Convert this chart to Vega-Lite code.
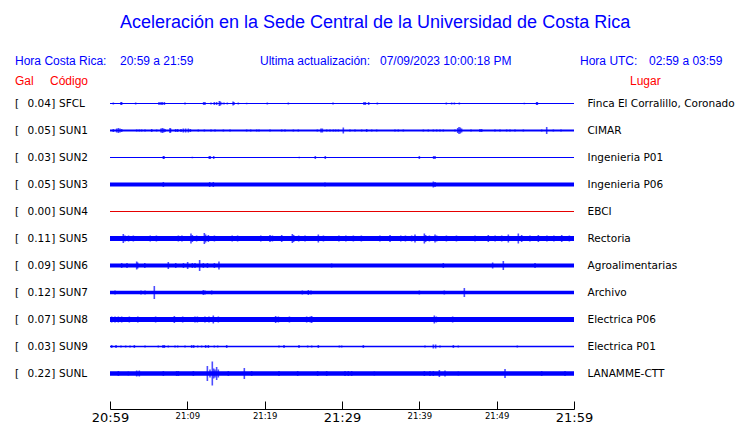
{
  "$schema": "https://vega.github.io/schema/vega-lite/v6.json",
  "autosize": {"type": "none"},
  "width": 464,
  "height": 297,
  "padding": {"left": 110, "top": 90, "right": 166, "bottom": 36},
  "background": "white",
  "config": {"view": {"stroke": null}},
  "datasets": {
    "bands": [
      {"s": "SFCL", "t0": 0, "t1": 60, "w": 1},
      {"s": "SUN1", "t0": 0, "t1": 60, "w": 2},
      {"s": "SUN2", "t0": 0, "t1": 60, "w": 1},
      {"s": "SUN3", "t0": 0, "t1": 60, "w": 4},
      {"s": "SUN4", "t0": 0, "t1": 60, "w": 1},
      {"s": "SUN5", "t0": 0, "t1": 60, "w": 5},
      {"s": "SUN6", "t0": 0, "t1": 60, "w": 4},
      {"s": "SUN7", "t0": 0, "t1": 60, "w": 3.5},
      {"s": "SUN8", "t0": 0, "t1": 60, "w": 5},
      {"s": "SUN9", "t0": 0, "t1": 60, "w": 1.3},
      {"s": "SUNL", "t0": 0, "t1": 60, "w": 4.5}
    ],
    "stations": [
      {"s": "SFCL", "g": 0.04, "lugar": "Finca El Corralillo, Coronado"},
      {"s": "SUN1", "g": 0.05, "lugar": "CIMAR"},
      {"s": "SUN2", "g": 0.03, "lugar": "Ingenieria P01"},
      {"s": "SUN3", "g": 0.05, "lugar": "Ingenieria P06"},
      {"s": "SUN4", "g": 0.0, "lugar": "EBCI"},
      {"s": "SUN5", "g": 0.11, "lugar": "Rectoria"},
      {"s": "SUN6", "g": 0.09, "lugar": "Agroalimentarias"},
      {"s": "SUN7", "g": 0.12, "lugar": "Archivo"},
      {"s": "SUN8", "g": 0.07, "lugar": "Electrica P06"},
      {"s": "SUN9", "g": 0.03, "lugar": "Electrica P01"},
      {"s": "SUNL", "g": 0.22, "lugar": "LANAMME-CTT"}
    ],
    "spikes": [
      {"s":"SFCL","t":0.43,"a":2},{"s":"SFCL","t":1.42,"a":3},{"s":"SFCL","t":1.51,"a":3},{"s":"SFCL","t":3.32,"a":2},
      {"s":"SFCL","t":6.34,"a":3},{"s":"SFCL","t":6.59,"a":3},{"s":"SFCL","t":6.77,"a":3},{"s":"SFCL","t":7.03,"a":3},
      {"s":"SFCL","t":9.7,"a":2},{"s":"SFCL","t":12.11,"a":3},{"s":"SFCL","t":12.28,"a":3},{"s":"SFCL","t":13.06,"a":2},
      {"s":"SFCL","t":13.49,"a":3},{"s":"SFCL","t":13.79,"a":3},{"s":"SFCL","t":14.14,"a":5},{"s":"SFCL","t":14.27,"a":4},
      {"s":"SFCL","t":14.44,"a":2},{"s":"SFCL","t":14.74,"a":2},{"s":"SFCL","t":15.17,"a":2},{"s":"SFCL","t":15.91,"a":4},
      {"s":"SFCL","t":16.03,"a":3},{"s":"SFCL","t":16.59,"a":2},{"s":"SFCL","t":17.67,"a":1.5},{"s":"SFCL","t":20.34,"a":2},
      {"s":"SFCL","t":23.06,"a":2},{"s":"SFCL","t":28.84,"a":2},{"s":"SFCL","t":32.84,"a":3},{"s":"SFCL","t":33.02,"a":3},
      {"s":"SFCL","t":33.45,"a":3},{"s":"SFCL","t":34.57,"a":2},{"s":"SFCL","t":43.49,"a":2},{"s":"SFCL","t":44.18,"a":2},
      {"s":"SFCL","t":44.53,"a":2},{"s":"SFCL","t":45.17,"a":2},{"s":"SFCL","t":53.58,"a":1.5},{"s":"SFCL","t":55.17,"a":3},
      {"s":"SFCL","t":55.26,"a":3},

      {"s":"SUN1","t":0.43,"a":3},{"s":"SUN1","t":0.86,"a":4},{"s":"SUN1","t":1.08,"a":5},{"s":"SUN1","t":1.29,"a":4},
      {"s":"SUN1","t":1.51,"a":3},{"s":"SUN1","t":3.45,"a":2},{"s":"SUN1","t":3.79,"a":2},{"s":"SUN1","t":4.09,"a":2},
      {"s":"SUN1","t":4.53,"a":2},{"s":"SUN1","t":5.39,"a":3},{"s":"SUN1","t":6.03,"a":2},{"s":"SUN1","t":6.59,"a":4},
      {"s":"SUN1","t":6.77,"a":5},{"s":"SUN1","t":6.94,"a":4},{"s":"SUN1","t":7.11,"a":3},{"s":"SUN1","t":7.76,"a":5},
      {"s":"SUN1","t":7.84,"a":4},{"s":"SUN1","t":8.49,"a":3},{"s":"SUN1","t":8.75,"a":3},{"s":"SUN1","t":9.18,"a":3},
      {"s":"SUN1","t":9.48,"a":4},{"s":"SUN1","t":9.78,"a":4},{"s":"SUN1","t":10.13,"a":4},{"s":"SUN1","t":10.39,"a":3},
      {"s":"SUN1","t":11.42,"a":2},{"s":"SUN1","t":12.2,"a":2},{"s":"SUN1","t":13.06,"a":2},{"s":"SUN1","t":13.58,"a":2},
      {"s":"SUN1","t":14.66,"a":2},{"s":"SUN1","t":15.52,"a":2},{"s":"SUN1","t":17.67,"a":2},{"s":"SUN1","t":18.19,"a":2},
      {"s":"SUN1","t":18.97,"a":2},{"s":"SUN1","t":19.27,"a":2},{"s":"SUN1","t":20.69,"a":2},{"s":"SUN1","t":22.2,"a":2},
      {"s":"SUN1","t":22.63,"a":2},{"s":"SUN1","t":23.71,"a":2},{"s":"SUN1","t":24.35,"a":2},{"s":"SUN1","t":26.81,"a":2},
      {"s":"SUN1","t":27.28,"a":4},{"s":"SUN1","t":27.46,"a":4},{"s":"SUN1","t":28.02,"a":2},{"s":"SUN1","t":28.45,"a":2},
      {"s":"SUN1","t":28.88,"a":2},{"s":"SUN1","t":29.18,"a":2},{"s":"SUN1","t":29.53,"a":2},{"s":"SUN1","t":30.17,"a":6},
      {"s":"SUN1","t":31.03,"a":2},{"s":"SUN1","t":31.68,"a":2},{"s":"SUN1","t":32.54,"a":2},{"s":"SUN1","t":33.19,"a":3},
      {"s":"SUN1","t":33.84,"a":2},{"s":"SUN1","t":34.48,"a":2},{"s":"SUN1","t":36.85,"a":2},{"s":"SUN1","t":37.28,"a":2},
      {"s":"SUN1","t":37.93,"a":2},{"s":"SUN1","t":40.52,"a":2},{"s":"SUN1","t":41.16,"a":2},{"s":"SUN1","t":41.81,"a":2},
      {"s":"SUN1","t":42.24,"a":2},{"s":"SUN1","t":42.67,"a":2},{"s":"SUN1","t":43.1,"a":2},{"s":"SUN1","t":44.61,"a":2},
      {"s":"SUN1","t":44.96,"a":5},{"s":"SUN1","t":45.13,"a":7},{"s":"SUN1","t":45.3,"a":6},{"s":"SUN1","t":45.47,"a":4},
      {"s":"SUN1","t":46.68,"a":2},{"s":"SUN1","t":47.84,"a":3},{"s":"SUN1","t":48.06,"a":3},{"s":"SUN1","t":49.78,"a":2},
      {"s":"SUN1","t":50.43,"a":2},{"s":"SUN1","t":51.29,"a":2},{"s":"SUN1","t":51.72,"a":2},{"s":"SUN1","t":52.37,"a":2},
      {"s":"SUN1","t":53.45,"a":2},{"s":"SUN1","t":55.82,"a":2},{"s":"SUN1","t":56.47,"a":7},{"s":"SUN1","t":57.33,"a":2},
      {"s":"SUN1","t":58.32,"a":2},

      {"s":"SUN2","t":6.9,"a":3},{"s":"SUN2","t":6.98,"a":3},{"s":"SUN2","t":10.65,"a":1.5},{"s":"SUN2","t":12.84,"a":3},
      {"s":"SUN2","t":12.97,"a":3},{"s":"SUN2","t":13.41,"a":3},{"s":"SUN2","t":24.48,"a":1.5},{"s":"SUN2","t":26.55,"a":3},
      {"s":"SUN2","t":27.84,"a":3},{"s":"SUN2","t":40.0,"a":3},{"s":"SUN2","t":41.85,"a":3},{"s":"SUN2","t":42.03,"a":3},

      {"s":"SUN3","t":6.9,"a":5},{"s":"SUN3","t":12.89,"a":5},{"s":"SUN3","t":13.36,"a":5},{"s":"SUN3","t":27.8,"a":4},
      {"s":"SUN3","t":41.81,"a":6},{"s":"SUN3","t":42.03,"a":5},

      {"s":"SUN5","t":0.3,"a":5},{"s":"SUN5","t":0.56,"a":5},{"s":"SUN5","t":1.72,"a":9},{"s":"SUN5","t":1.94,"a":6},
      {"s":"SUN5","t":2.4,"a":6},{"s":"SUN5","t":3.02,"a":6},{"s":"SUN5","t":4.09,"a":5},{"s":"SUN5","t":5.2,"a":6},
      {"s":"SUN5","t":6.0,"a":6},{"s":"SUN5","t":7.54,"a":5},{"s":"SUN5","t":7.97,"a":5},{"s":"SUN5","t":8.84,"a":6},
      {"s":"SUN5","t":9.3,"a":6},{"s":"SUN5","t":10.47,"a":10},{"s":"SUN5","t":10.65,"a":7},{"s":"SUN5","t":11.2,"a":6},
      {"s":"SUN5","t":12.2,"a":11},{"s":"SUN5","t":12.37,"a":8},{"s":"SUN5","t":12.72,"a":7},{"s":"SUN5","t":13.5,"a":6},
      {"s":"SUN5","t":14.44,"a":5},{"s":"SUN5","t":15.8,"a":6},{"s":"SUN5","t":16.5,"a":6},{"s":"SUN5","t":17.46,"a":5},
      {"s":"SUN5","t":18.75,"a":5},{"s":"SUN5","t":19.5,"a":6},{"s":"SUN5","t":20.69,"a":7},{"s":"SUN5","t":21.0,"a":6},
      {"s":"SUN5","t":22.2,"a":7},{"s":"SUN5","t":23.58,"a":9},{"s":"SUN5","t":23.75,"a":7},{"s":"SUN5","t":24.4,"a":6},
      {"s":"SUN5","t":25.22,"a":6},{"s":"SUN5","t":26.94,"a":8},{"s":"SUN5","t":27.6,"a":6},{"s":"SUN5","t":28.02,"a":5},
      {"s":"SUN5","t":29.6,"a":6},{"s":"SUN5","t":30.5,"a":6},{"s":"SUN5","t":31.47,"a":6},{"s":"SUN5","t":32.5,"a":6},
      {"s":"SUN5","t":33.84,"a":5},{"s":"SUN5","t":34.9,"a":6},{"s":"SUN5","t":36.21,"a":7},{"s":"SUN5","t":37.6,"a":6},
      {"s":"SUN5","t":38.2,"a":6},{"s":"SUN5","t":39.01,"a":6},{"s":"SUN5","t":39.44,"a":8},{"s":"SUN5","t":40.65,"a":10},
      {"s":"SUN5","t":40.82,"a":7},{"s":"SUN5","t":41.3,"a":6},{"s":"SUN5","t":42.03,"a":8},{"s":"SUN5","t":42.24,"a":6},
      {"s":"SUN5","t":43.5,"a":6},{"s":"SUN5","t":44.8,"a":6},{"s":"SUN5","t":46.34,"a":5},{"s":"SUN5","t":47.2,"a":6},
      {"s":"SUN5","t":48.92,"a":7},{"s":"SUN5","t":49.8,"a":6},{"s":"SUN5","t":50.65,"a":6},{"s":"SUN5","t":51.51,"a":8},
      {"s":"SUN5","t":52.8,"a":10},{"s":"SUN5","t":53.23,"a":7},{"s":"SUN5","t":54.3,"a":6},{"s":"SUN5","t":55.39,"a":7},
      {"s":"SUN5","t":56.5,"a":6},{"s":"SUN5","t":57.4,"a":6},{"s":"SUN5","t":58.41,"a":7},{"s":"SUN5","t":59.4,"a":6},

      {"s":"SUN6","t":1.51,"a":5},{"s":"SUN6","t":2.2,"a":5},{"s":"SUN6","t":3.45,"a":8},{"s":"SUN6","t":3.58,"a":6},
      {"s":"SUN6","t":4.5,"a":5},{"s":"SUN6","t":7.54,"a":7},{"s":"SUN6","t":8.5,"a":5},{"s":"SUN6","t":9.5,"a":5},
      {"s":"SUN6","t":10.04,"a":7},{"s":"SUN6","t":10.65,"a":5},{"s":"SUN6","t":10.99,"a":5},{"s":"SUN6","t":11.59,"a":11},
      {"s":"SUN6","t":12.07,"a":5},{"s":"SUN6","t":12.6,"a":5},{"s":"SUN6","t":13.5,"a":5},{"s":"SUN6","t":14.09,"a":8},
      {"s":"SUN6","t":28.66,"a":4},{"s":"SUN6","t":43.1,"a":5},{"s":"SUN6","t":49.48,"a":6},{"s":"SUN6","t":50.86,"a":9},
      {"s":"SUN6","t":54.96,"a":5},

      {"s":"SUN7","t":0.65,"a":4},{"s":"SUN7","t":3.45,"a":3},{"s":"SUN7","t":4.01,"a":4},{"s":"SUN7","t":4.53,"a":4},
      {"s":"SUN7","t":5.73,"a":13},{"s":"SUN7","t":8.62,"a":3},{"s":"SUN7","t":10.78,"a":3},{"s":"SUN7","t":12.07,"a":5},
      {"s":"SUN7","t":12.28,"a":4},{"s":"SUN7","t":13.15,"a":4},{"s":"SUN7","t":17.89,"a":3},{"s":"SUN7","t":19.4,"a":3},
      {"s":"SUN7","t":20.69,"a":3},{"s":"SUN7","t":21.77,"a":3},{"s":"SUN7","t":22.84,"a":3},{"s":"SUN7","t":24.87,"a":4},
      {"s":"SUN7","t":25.65,"a":5},{"s":"SUN7","t":25.99,"a":4},{"s":"SUN7","t":27.37,"a":3},{"s":"SUN7","t":29.09,"a":3},
      {"s":"SUN7","t":30.39,"a":3},{"s":"SUN7","t":31.47,"a":3},{"s":"SUN7","t":32.54,"a":3},{"s":"SUN7","t":35.13,"a":3},
      {"s":"SUN7","t":37.5,"a":3},{"s":"SUN7","t":38.79,"a":3},{"s":"SUN7","t":40.0,"a":4},{"s":"SUN7","t":41.16,"a":3},
      {"s":"SUN7","t":43.23,"a":4},{"s":"SUN7","t":43.75,"a":3},{"s":"SUN7","t":44.61,"a":3},{"s":"SUN7","t":45.82,"a":9},
      {"s":"SUN7","t":47.63,"a":3},{"s":"SUN7","t":51.29,"a":3},{"s":"SUN7","t":55.39,"a":3},{"s":"SUN7","t":58.84,"a":3},

      {"s":"SUN8","t":0.22,"a":6},{"s":"SUN8","t":0.65,"a":6},{"s":"SUN8","t":1.08,"a":6},{"s":"SUN8","t":1.51,"a":6},
      {"s":"SUN8","t":1.94,"a":5},{"s":"SUN8","t":2.5,"a":6},{"s":"SUN8","t":3.02,"a":5},{"s":"SUN8","t":3.6,"a":6},
      {"s":"SUN8","t":4.31,"a":5},{"s":"SUN8","t":5.39,"a":5},{"s":"SUN8","t":5.9,"a":6},{"s":"SUN8","t":6.9,"a":5},
      {"s":"SUN8","t":7.76,"a":5},{"s":"SUN8","t":8.32,"a":7},{"s":"SUN8","t":8.62,"a":5},{"s":"SUN8","t":9.4,"a":6},
      {"s":"SUN8","t":10.13,"a":5},{"s":"SUN8","t":10.99,"a":6},{"s":"SUN8","t":11.3,"a":6},{"s":"SUN8","t":11.64,"a":5},
      {"s":"SUN8","t":12.28,"a":6},{"s":"SUN8","t":12.8,"a":6},{"s":"SUN8","t":13.36,"a":8},{"s":"SUN8","t":14.01,"a":6},
      {"s":"SUN8","t":14.44,"a":5},{"s":"SUN8","t":15.09,"a":5},{"s":"SUN8","t":19.61,"a":4},{"s":"SUN8","t":21.42,"a":7},
      {"s":"SUN8","t":21.77,"a":6},{"s":"SUN8","t":22.41,"a":5},{"s":"SUN8","t":23.2,"a":6},{"s":"SUN8","t":23.92,"a":5},
      {"s":"SUN8","t":24.78,"a":5},{"s":"SUN8","t":25.43,"a":6},{"s":"SUN8","t":25.9,"a":6},{"s":"SUN8","t":26.08,"a":7},
      {"s":"SUN8","t":26.94,"a":5},{"s":"SUN8","t":28.66,"a":4},{"s":"SUN8","t":29.74,"a":4},{"s":"SUN8","t":31.03,"a":4},
      {"s":"SUN8","t":39.44,"a":4},{"s":"SUN8","t":40.52,"a":4},{"s":"SUN8","t":41.94,"a":8},{"s":"SUN8","t":42.2,"a":6},
      {"s":"SUN8","t":44.31,"a":6},{"s":"SUN8","t":44.74,"a":5},{"s":"SUN8","t":45.91,"a":4},{"s":"SUN8","t":48.49,"a":4},
      {"s":"SUN8","t":48.92,"a":4},{"s":"SUN8","t":50.86,"a":4},{"s":"SUN8","t":52.8,"a":4},{"s":"SUN8","t":53.45,"a":4},
      {"s":"SUN8","t":58.75,"a":4},

      {"s":"SUN9","t":0.22,"a":3},{"s":"SUN9","t":0.78,"a":3},{"s":"SUN9","t":1.42,"a":2},{"s":"SUN9","t":2.03,"a":2},
      {"s":"SUN9","t":2.59,"a":2},{"s":"SUN9","t":3.15,"a":3},{"s":"SUN9","t":4.53,"a":2},{"s":"SUN9","t":6.25,"a":2},
      {"s":"SUN9","t":6.85,"a":3},{"s":"SUN9","t":7.03,"a":3},{"s":"SUN9","t":7.54,"a":2},{"s":"SUN9","t":8.41,"a":2},
      {"s":"SUN9","t":8.75,"a":2},{"s":"SUN9","t":9.7,"a":2},{"s":"SUN9","t":10.56,"a":3},{"s":"SUN9","t":10.82,"a":3},
      {"s":"SUN9","t":11.34,"a":2},{"s":"SUN9","t":11.85,"a":2},{"s":"SUN9","t":12.37,"a":3},{"s":"SUN9","t":12.72,"a":3},
      {"s":"SUN9","t":13.49,"a":2},{"s":"SUN9","t":13.92,"a":2},{"s":"SUN9","t":15.09,"a":3},{"s":"SUN9","t":21.85,"a":2},
      {"s":"SUN9","t":22.5,"a":3},{"s":"SUN9","t":24.44,"a":3},{"s":"SUN9","t":25.56,"a":2},{"s":"SUN9","t":26.08,"a":2},
      {"s":"SUN9","t":26.94,"a":3},{"s":"SUN9","t":29.66,"a":2},{"s":"SUN9","t":29.96,"a":2},{"s":"SUN9","t":32.76,"a":3},
      {"s":"SUN9","t":40.73,"a":2},{"s":"SUN9","t":41.81,"a":4},{"s":"SUN9","t":42.11,"a":4},{"s":"SUN9","t":42.67,"a":2},
      {"s":"SUN9","t":44.4,"a":3},{"s":"SUN9","t":45.04,"a":2},{"s":"SUN9","t":52.67,"a":2},

      {"s":"SUNL","t":1.08,"a":5},{"s":"SUNL","t":2.37,"a":4},{"s":"SUNL","t":3.45,"a":6},{"s":"SUNL","t":3.79,"a":6},
      {"s":"SUNL","t":6.9,"a":5},{"s":"SUNL","t":8.62,"a":5},{"s":"SUNL","t":8.84,"a":5},{"s":"SUNL","t":10.78,"a":5},
      {"s":"SUNL","t":12.59,"a":15},{"s":"SUNL","t":12.93,"a":8},{"s":"SUNL","t":13.23,"a":24},{"s":"SUNL","t":13.41,"a":10},
      {"s":"SUNL","t":13.58,"a":8},{"s":"SUNL","t":13.79,"a":13},{"s":"SUNL","t":14.01,"a":8},{"s":"SUNL","t":15.3,"a":5},
      {"s":"SUNL","t":17.37,"a":11},{"s":"SUNL","t":18.32,"a":5},{"s":"SUNL","t":21.85,"a":5},{"s":"SUNL","t":24.27,"a":5},
      {"s":"SUNL","t":26.85,"a":5},{"s":"SUNL","t":28.02,"a":5},{"s":"SUNL","t":30.39,"a":5},{"s":"SUNL","t":30.82,"a":5},
      {"s":"SUNL","t":31.25,"a":5},{"s":"SUNL","t":34.18,"a":4},{"s":"SUNL","t":40.65,"a":5},{"s":"SUNL","t":41.38,"a":5},
      {"s":"SUNL","t":41.81,"a":5},{"s":"SUNL","t":42.59,"a":7},{"s":"SUNL","t":43.32,"a":6},{"s":"SUNL","t":45.04,"a":4},
      {"s":"SUNL","t":51.08,"a":9},{"s":"SUNL","t":55.82,"a":5},{"s":"SUNL","t":58.84,"a":5}
    ],
    "header": [{}]
  },
  "layer": [
    {
      "data": {"name": "bands"},
      "mark": {"type": "rule"},
      "encoding": {
        "x": {
          "field": "t0", "type": "quantitative",
          "scale": {"domain": [0, 60], "nice": false, "zero": false},
          "axis": {
            "orient": "bottom", "offset": 22, "title": null,
            "values": [0, 5, 10, 15, 20, 25, 30, 35, 40, 45, 50, 55, 60],
            "grid": false, "domainColor": "black", "domainWidth": 1,
            "tickColor": "black", "tickWidth": 1, "tickSize": -8,
            "labelColor": "black", "labelFont": "DejaVu Sans",
            "labelFontSize": {"condition": {"test": "datum.value % 30 === 0", "value": 13}, "value": 8.5},
            "labelPadding": 10, "labelFlush": false, "labelOverlap": false, "labelBound": false,
            "labelExpr": "datum.value % 10 !== 0 ? '' : (datum.value === 0 ? '20:59' : '21:' + (datum.value < 11 ? '0' : '') + (datum.value - 1))"
          }
        },
        "x2": {"field": "t1"},
        "y": {
          "field": "s", "type": "nominal",
          "scale": {"type": "point", "padding": 0.5, "domain": ["SFCL","SUN1","SUN2","SUN3","SUN4","SUN5","SUN6","SUN7","SUN8","SUN9","SUNL"]},
          "axis": null
        },
        "size": {"field": "w", "type": "quantitative", "scale": {"type": "linear", "domain": [0, 30], "range": [0, 30]}, "legend": null},
        "color": {
          "field": "s", "type": "nominal", "legend": null,
          "scale": {
            "domain": ["SFCL","SUN1","SUN2","SUN3","SUN4","SUN5","SUN6","SUN7","SUN8","SUN9","SUNL"],
            "range": ["#0000ff","#0000ff","#0000ff","#0000ff","#e60000","#0000ff","#0000ff","#0000ff","#0000ff","#0000ff","#0000ff"]
          }
        }
      }
    },
    {
      "data": {"name": "spikes"},
      "mark": {"type": "tick", "orient": "vertical", "thickness": 1.6, "color": "#0000ff"},
      "encoding": {
        "x": {"field": "t", "type": "quantitative"},
        "y": {"field": "s", "type": "nominal"},
        "size": {"field": "a", "type": "quantitative", "scale": {"type": "linear", "domain": [0, 30], "range": [0, 30]}, "legend": null}
      }
    },
    {
      "data": {"name": "stations"},
      "mark": {"type": "text", "align": "left", "baseline": "middle", "font": "DejaVu Sans", "fontSize": 10.5, "color": "black"},
      "encoding": {
        "x": {"datum": -12.28, "type": "quantitative"},
        "y": {"field": "s", "type": "nominal"},
        "text": {"value": "["}
      }
    },
    {
      "data": {"name": "stations"},
      "mark": {"type": "text", "align": "right", "baseline": "middle", "font": "DejaVu Sans", "fontSize": 10.5, "color": "black"},
      "encoding": {
        "x": {"datum": -7.63, "type": "quantitative"},
        "y": {"field": "s", "type": "nominal"},
        "text": {"field": "g", "type": "quantitative", "format": ".2f"}
      }
    },
    {
      "data": {"name": "stations"},
      "mark": {"type": "text", "align": "left", "baseline": "middle", "font": "DejaVu Sans", "fontSize": 10.5, "color": "black"},
      "encoding": {
        "x": {"datum": -7.6, "type": "quantitative"},
        "y": {"field": "s", "type": "nominal"},
        "text": {"value": "]"}
      }
    },
    {
      "data": {"name": "stations"},
      "mark": {"type": "text", "align": "left", "baseline": "middle", "font": "DejaVu Sans", "fontSize": 10.5, "color": "black"},
      "encoding": {
        "x": {"datum": -6.59, "type": "quantitative"},
        "y": {"field": "s", "type": "nominal"},
        "text": {"field": "s", "type": "nominal"}
      }
    },
    {
      "data": {"name": "stations"},
      "mark": {"type": "text", "align": "left", "baseline": "middle", "font": "DejaVu Sans", "fontSize": 10.5, "color": "black"},
      "encoding": {
        "x": {"datum": 61.75, "type": "quantitative"},
        "y": {"field": "s", "type": "nominal"},
        "text": {"field": "lugar", "type": "nominal"}
      }
    },
    {
      "data": {"name": "header"},
      "mark": {"type": "text", "align": "center", "baseline": "middle", "font": "Liberation Sans", "fontSize": 18, "color": "#0000ff", "dy": -81},
      "encoding": {"x": {"datum": 34.27, "type": "quantitative"}, "y": {"datum": "SFCL", "type": "nominal"}, "text": {"value": "Aceleración en la Sede Central de la Universidad de Costa Rica"}}
    },
    {
      "data": {"name": "header"},
      "mark": {"type": "text", "align": "left", "baseline": "middle", "font": "Liberation Sans", "fontSize": 12, "color": "#0000ff", "dy": -43},
      "encoding": {"x": {"datum": -12.28, "type": "quantitative"}, "y": {"datum": "SFCL", "type": "nominal"}, "text": {"value": "Hora Costa Rica:"}}
    },
    {
      "data": {"name": "header"},
      "mark": {"type": "text", "align": "left", "baseline": "middle", "font": "Liberation Sans", "fontSize": 12, "color": "#0000ff", "dy": -43},
      "encoding": {"x": {"datum": 1.29, "type": "quantitative"}, "y": {"datum": "SFCL", "type": "nominal"}, "text": {"value": "20:59 a 21:59"}}
    },
    {
      "data": {"name": "header"},
      "mark": {"type": "text", "align": "left", "baseline": "middle", "font": "Liberation Sans", "fontSize": 12, "color": "#0000ff", "dy": -43},
      "encoding": {"x": {"datum": 19.4, "type": "quantitative"}, "y": {"datum": "SFCL", "type": "nominal"}, "text": {"value": "Ultima actualización:"}}
    },
    {
      "data": {"name": "header"},
      "mark": {"type": "text", "align": "left", "baseline": "middle", "font": "Liberation Sans", "fontSize": 12, "color": "#0000ff", "dy": -43},
      "encoding": {"x": {"datum": 34.91, "type": "quantitative"}, "y": {"datum": "SFCL", "type": "nominal"}, "text": {"value": "07/09/2023 10:00:18 PM"}}
    },
    {
      "data": {"name": "header"},
      "mark": {"type": "text", "align": "left", "baseline": "middle", "font": "Liberation Sans", "fontSize": 12, "color": "#0000ff", "dy": -43},
      "encoding": {"x": {"datum": 60.78, "type": "quantitative"}, "y": {"datum": "SFCL", "type": "nominal"}, "text": {"value": "Hora UTC:"}}
    },
    {
      "data": {"name": "header"},
      "mark": {"type": "text", "align": "left", "baseline": "middle", "font": "Liberation Sans", "fontSize": 12, "color": "#0000ff", "dy": -43},
      "encoding": {"x": {"datum": 69.7, "type": "quantitative"}, "y": {"datum": "SFCL", "type": "nominal"}, "text": {"value": "02:59 a 03:59"}}
    },
    {
      "data": {"name": "header"},
      "mark": {"type": "text", "align": "left", "baseline": "middle", "font": "Liberation Sans", "fontSize": 12, "color": "#ff0000", "dy": -23},
      "encoding": {"x": {"datum": -12.28, "type": "quantitative"}, "y": {"datum": "SFCL", "type": "nominal"}, "text": {"value": "Gal"}}
    },
    {
      "data": {"name": "header"},
      "mark": {"type": "text", "align": "left", "baseline": "middle", "font": "Liberation Sans", "fontSize": 12, "color": "#ff0000", "dy": -23},
      "encoding": {"x": {"datum": -7.76, "type": "quantitative"}, "y": {"datum": "SFCL", "type": "nominal"}, "text": {"value": "Código"}}
    },
    {
      "data": {"name": "header"},
      "mark": {"type": "text", "align": "left", "baseline": "middle", "font": "Liberation Sans", "fontSize": 12, "color": "#ff0000", "dy": -23},
      "encoding": {"x": {"datum": 67.24, "type": "quantitative"}, "y": {"datum": "SFCL", "type": "nominal"}, "text": {"value": "Lugar"}}
    }
  ]
}
